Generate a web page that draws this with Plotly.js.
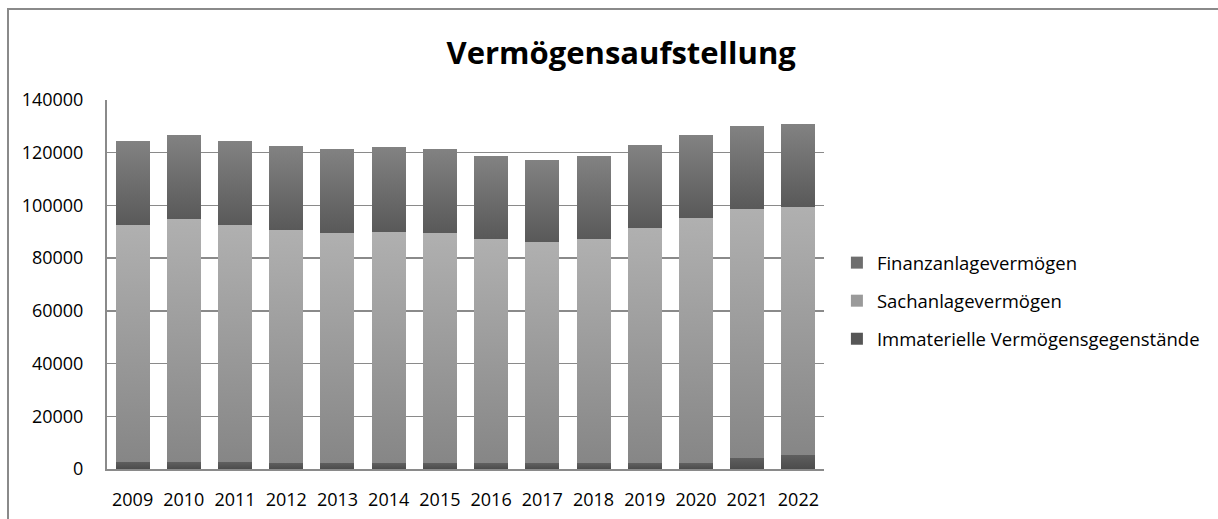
<!DOCTYPE html>
<html>
<head>
<meta charset="utf-8">
<script src="https://cdn.plot.ly/plotly-3.0.1.min.js"></script>
<style>
  html, body { margin: 0; padding: 0; background: #fff; overflow: hidden; }
  #frame { position: absolute; left: 7px; top: 8px; width: 1400px; height: 700px; border: 2px solid #8a8a8a; }
  #chart { position: absolute; left: 0; top: 0; width: 1218px; height: 519px; }
</style>
</head>
<body>
<div id="frame"></div>
<div id="chart"></div>
<script>
// values (stack tops minus the layer below)
const years = ['2009', '2010', '2011', '2012', '2013', '2014', '2015', '2016', '2017', '2018', '2019', '2020', '2021', '2022'];
const immateriell = [2800, 2500, 2500, 2400, 2400, 2200, 2200, 2100, 2100, 2100, 2100, 2100, 4300, 5500];
const sachanlagen = [89600, 92200, 89900, 88100, 87300, 87900, 87500, 85300, 84200, 85000, 89400, 93200, 94400, 94000];
const finanzanlagen = [31900, 32200, 31900, 31900, 31900, 31900, 31900, 31200, 31100, 31500, 31300, 31300, 31300, 31300];

const font = 'Open Sans, Lato, sans-serif';

function bars(name, values, color, group, rank) {
    return {
        type: 'bar',
        name: name,
        x: years,
        y: values,
        legendgroup: group,
        legendrank: rank,
        marker: { color: color, line: { width: 0 } },
        hoverinfo: 'x+y+name'
    };
}

const data = [
    bars('Immaterielle Vermögensgegenstände', immateriell, '#565656', 'a', 3),
    bars('Sachanlagevermögen', sachanlagen, '#9a9a9a', 'b', 2),
    bars('Finanzanlagevermögen', finanzanlagen, '#6e6e6e', 'c', 1)
];

const layout = {
    width: 1218,
    height: 519,
    margin: { l: 107, r: 394, t: 100, b: 50 },
    paper_bgcolor: 'rgba(0,0,0,0)',
    plot_bgcolor: 'rgba(0,0,0,0)',
    barmode: 'stack',
    bargap: 0.335,
    font: { family: font, size: 18, color: '#000' },
    title: {
        text: '<b>Vermögensaufstellung</b>',
        font: { family: font, size: 31, color: '#000' },
        x: 0.51, xref: 'container', xanchor: 'center',
        y: 0.898, yref: 'container', yanchor: 'middle'
    },
    xaxis: {
        type: 'category',
        showline: true, linecolor: '#8a8a8a', linewidth: 2,
        ticks: '', showgrid: false,
        ticklabelstandoff: 13,
        tickfont: { family: font, size: 18 }
    },
    yaxis: {
        range: [0, 140000],
        dtick: 20000,
        tickformat: 'd',
        showline: true, linecolor: '#8a8a8a', linewidth: 2,
        gridcolor: '#8a8a8a', gridwidth: 1.5,
        zeroline: false,
        ticks: '',
        ticklabelstandoff: 18,
        tickfont: { family: font, size: 18 }
    },
    legend: {
        x: 1.018, xanchor: 'left',
        y: 0.455, yanchor: 'middle',
        traceorder: 'grouped',
        tracegroupgap: 11,
        font: { family: font, size: 18.5, color: '#000' },
        bgcolor: 'rgba(0,0,0,0)'
    },
    showlegend: true
};

const config = { responsive: false, displayModeBar: false, staticPlot: true };

// vertical shading like the original office chart
const gradients = {
    a: ['#5f5f5f', '#4c4c4c'],
    b: ['#b0b0b0', '#868686'],
    c: ['#828282', '#595959']
};

Plotly.newPlot('chart', data, layout, config).then(gd => {
    const svg = gd.querySelector('svg.main-svg');
    const ns = 'http://www.w3.org/2000/svg';
    let defs = svg.querySelector('defs');
    Object.keys(gradients).forEach(k => {
        const lg = document.createElementNS(ns, 'linearGradient');
        lg.setAttribute('id', 'grad-' + k);
        lg.setAttribute('x1', '0'); lg.setAttribute('y1', '0');
        lg.setAttribute('x2', '0'); lg.setAttribute('y2', '1');
        gradients[k].forEach((c, i) => {
            const stop = document.createElementNS(ns, 'stop');
            stop.setAttribute('offset', i === 0 ? '0' : '1');
            stop.setAttribute('stop-color', c);
            lg.appendChild(stop);
        });
        defs.appendChild(lg);
    });
    const keys = ['a', 'b', 'c'];
    gd.querySelectorAll('.barlayer .trace.bars').forEach((t, i) => {
        t.querySelectorAll('path').forEach(p => { p.style.fill = 'url(#grad-' + keys[i] + ')'; });
    });
});
</script>
</body>
</html>
